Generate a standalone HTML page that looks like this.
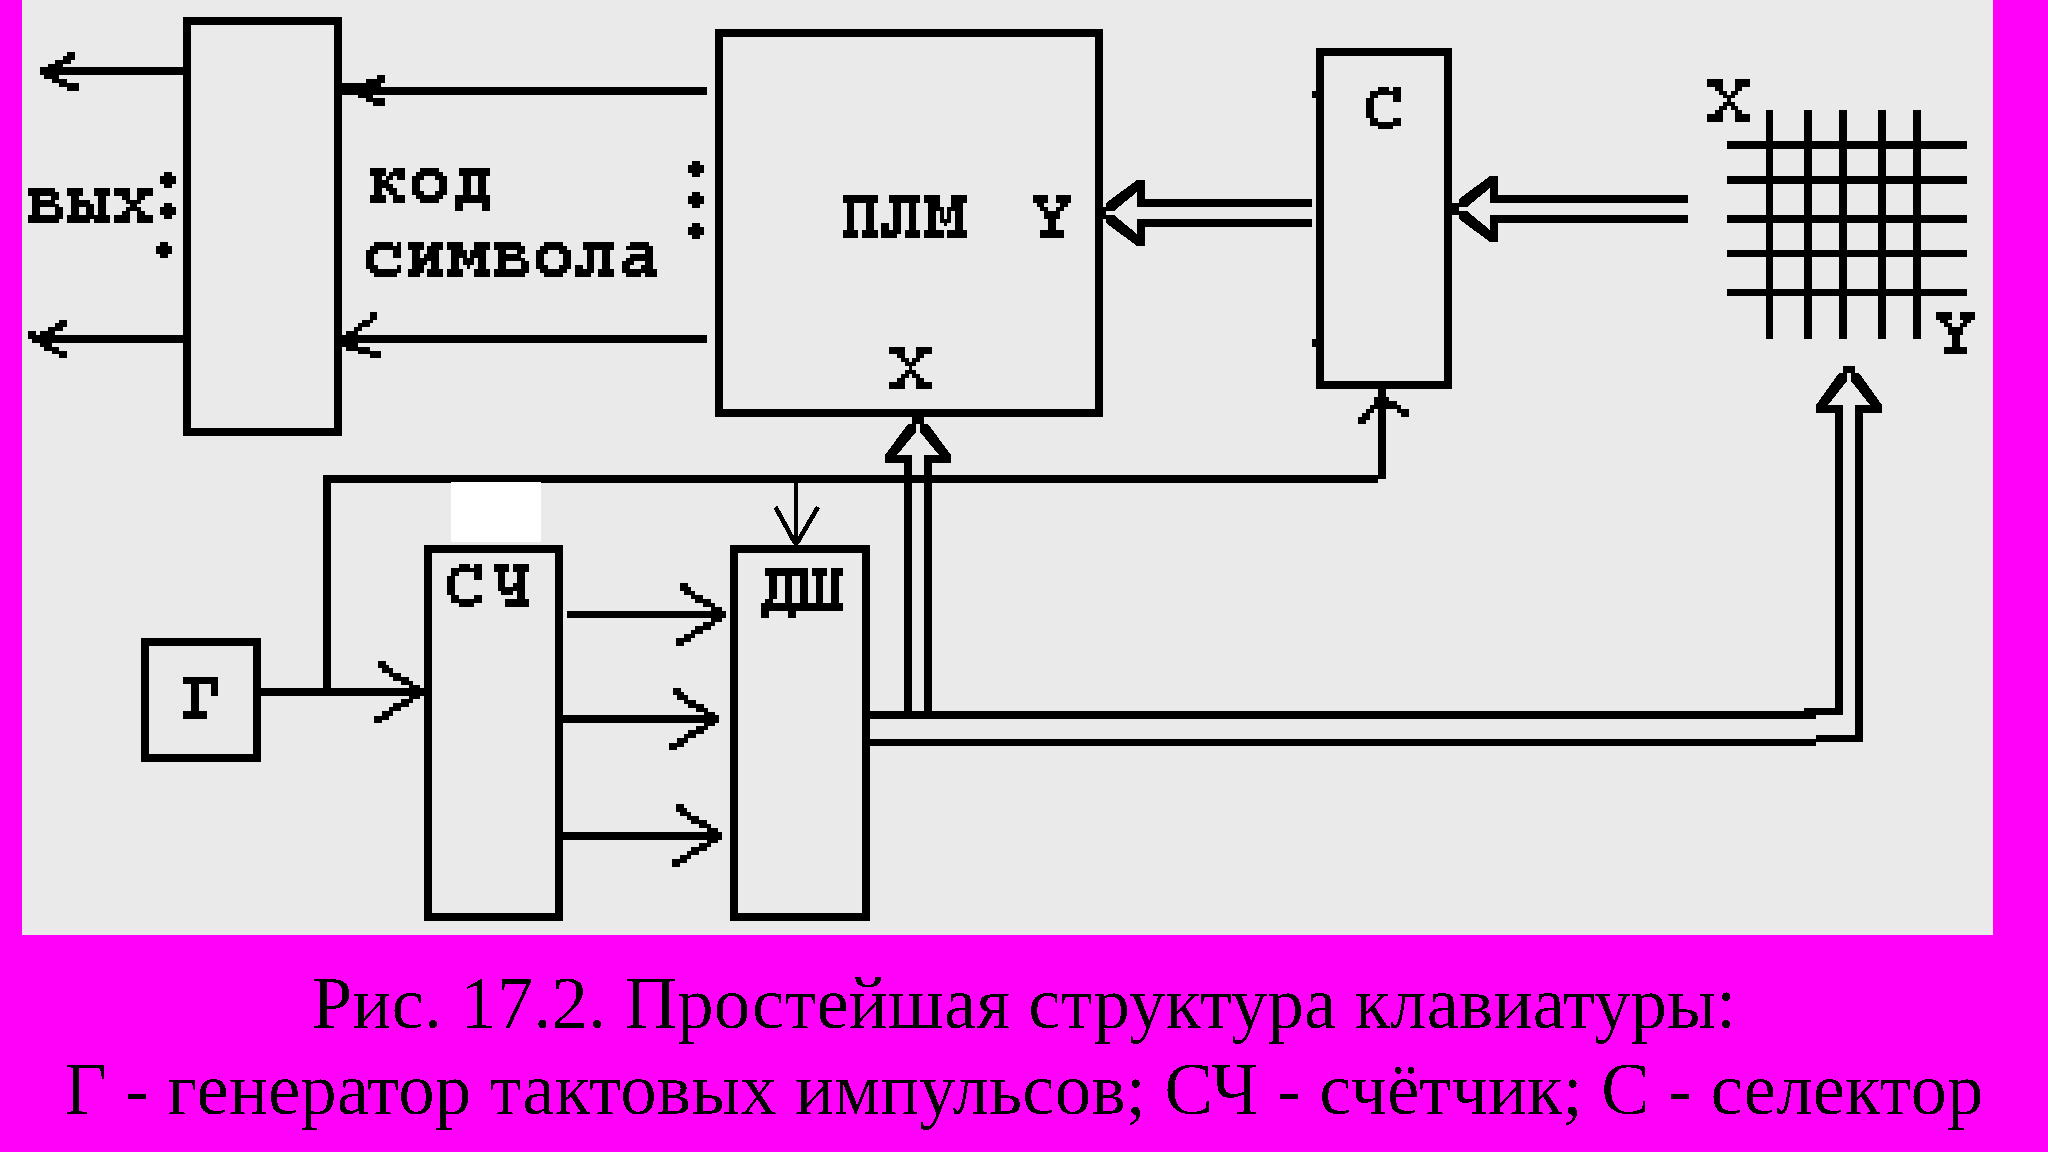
<!DOCTYPE html>
<html><head><meta charset="utf-8"><style>
html,body{margin:0;padding:0;width:2048px;height:1152px;overflow:hidden;background:#FF00F8;}
svg{position:absolute;left:0;top:0;display:block;}
.cap{font-family:"Liberation Serif",serif;fill:#000;}
</style></head><body>
<svg width="2048" height="1152" viewBox="0 0 2048 1152"><defs><filter id="th" x="0" y="940" width="2048" height="212" filterUnits="userSpaceOnUse"><feComponentTransfer><feFuncA type="discrete" tableValues="0 0 1"/></feComponentTransfer></filter></defs><g shape-rendering="crispEdges" fill="#000">
<rect x="22" y="0" width="1971" height="934.5" fill="#EAEAEA"/>
<rect x="183" y="17" width="159" height="8"/>
<rect x="183" y="427.5" width="159" height="8"/>
<rect x="183" y="17" width="8" height="418.5"/>
<rect x="334" y="17" width="8" height="418.5"/>
<rect x="40" y="67" width="143" height="8"/>
<rect x="67" y="52" width="8" height="4"/>
<rect x="63" y="56" width="12" height="4"/>
<rect x="55" y="60" width="16" height="4"/>
<rect x="48" y="64" width="15" height="3"/>
<rect x="44" y="75" width="15" height="4"/>
<rect x="52" y="79" width="15" height="4"/>
<rect x="59" y="83" width="20" height="4"/>
<rect x="67" y="87" width="12" height="4"/>
<rect x="32" y="335" width="151" height="8"/>
<rect x="28" y="331" width="8" height="8"/>
<rect x="59" y="320" width="8" height="3"/>
<rect x="55" y="323" width="12" height="4"/>
<rect x="48" y="327" width="15" height="4"/>
<rect x="40" y="331" width="15" height="4"/>
<rect x="40" y="343" width="12" height="4"/>
<rect x="44" y="347" width="15" height="4"/>
<rect x="52" y="351" width="15" height="3"/>
<rect x="59" y="354" width="8" height="4"/>
<rect x="342" y="87" width="365" height="8"/>
<rect x="342" y="82.7" width="24" height="12.3"/>
<rect x="366" y="79" width="15" height="16"/>
<rect x="377" y="75" width="8" height="8"/>
<rect x="358" y="95" width="15" height="3"/>
<rect x="366" y="98" width="7" height="4"/>
<rect x="373" y="98" width="12" height="8"/>
<rect x="342" y="335" width="365" height="8"/>
<rect x="342" y="335" width="4" height="11.7"/>
<rect x="346" y="331" width="12" height="20"/>
<rect x="354" y="327" width="8" height="4"/>
<rect x="358" y="323" width="12" height="4"/>
<rect x="362" y="320" width="11" height="3"/>
<rect x="370" y="312" width="7" height="8"/>
<rect x="358" y="346.7" width="12" height="7.3"/>
<rect x="370" y="351" width="11" height="7"/>
<rect x="160" y="176" width="16" height="8"/>
<rect x="164" y="172" width="8" height="16"/>
<rect x="160" y="207" width="16" height="8"/>
<rect x="164" y="203" width="8" height="16"/>
<rect x="156" y="246" width="16" height="8"/>
<rect x="160" y="242" width="8" height="16"/>
<rect x="688" y="165" width="16" height="8"/>
<rect x="692" y="161" width="8" height="16"/>
<rect x="688" y="196" width="16" height="8"/>
<rect x="692" y="192" width="8" height="16"/>
<rect x="688" y="227" width="16" height="8"/>
<rect x="692" y="223" width="8" height="16"/>
<rect x="715" y="29" width="388" height="7.5"/>
<rect x="715" y="409" width="388" height="8"/>
<rect x="715" y="29" width="7.5" height="388"/>
<rect x="1095" y="29" width="8" height="388"/>
<rect x="1103" y="207" width="3" height="12"/>
<path d="M1106,203 L1137,180 L1137,192 L1114,211 L1106,211Z"/>
<rect x="1137" y="180" width="8" height="27"/>
<rect x="1137" y="199" width="175" height="8"/>
<path d="M1106,223 L1137,246 L1137,234 L1114,215 L1106,215Z"/>
<rect x="1137" y="219" width="8" height="27"/>
<rect x="1137" y="219" width="175" height="8"/>
<rect x="1452" y="203" width="7" height="12"/>
<path d="M1459,199 L1490,176 L1490,188 L1467,207 L1459,207Z"/>
<rect x="1490" y="176" width="8" height="27"/>
<rect x="1490" y="195" width="198" height="8"/>
<path d="M1459,219 L1490,242 L1490,230 L1467,211 L1459,211Z"/>
<rect x="1490" y="215" width="8" height="27"/>
<rect x="1490" y="215" width="198" height="8"/>
<rect x="912" y="417" width="12" height="7"/>
<path d="M908,424 L885,455 L897,455 L916,432 L916,424Z"/>
<rect x="885" y="455" width="27" height="8"/>
<rect x="904" y="455" width="8" height="256"/>
<path d="M928,424 L951,455 L939,455 L920,432 L920,424Z"/>
<rect x="924" y="455" width="27" height="8"/>
<rect x="924" y="455" width="8" height="256"/>
<rect x="1843" y="366" width="12" height="7"/>
<path d="M1839,373 L1816,405 L1828,405 L1847,381 L1847,373Z"/>
<rect x="1816" y="405" width="27" height="8"/>
<path d="M1859,373 L1882,405 L1870,405 L1851,381 L1851,373Z"/>
<rect x="1855" y="405" width="27" height="8"/>
<rect x="1316" y="48" width="136" height="8"/>
<rect x="1316" y="381" width="136" height="8"/>
<rect x="1316" y="48" width="8" height="341"/>
<rect x="1444" y="48" width="8" height="341"/>
<rect x="1312" y="91" width="4" height="7"/>
<rect x="1312" y="339" width="4" height="8"/>
<rect x="1727" y="141" width="240" height="8"/>
<rect x="1727" y="176" width="240" height="8"/>
<rect x="1727" y="215" width="240" height="8"/>
<rect x="1727" y="250" width="240" height="7"/>
<rect x="1727" y="289" width="240" height="7"/>
<rect x="1766" y="110" width="7" height="229"/>
<rect x="1804" y="110" width="8" height="229"/>
<rect x="1839" y="110" width="8" height="229"/>
<rect x="1878" y="110" width="8" height="229"/>
<rect x="1913" y="110" width="8" height="229"/>
<rect x="1835" y="405" width="8" height="310"/>
<rect x="1855" y="405" width="8" height="337"/>
<rect x="870" y="711" width="946" height="8"/>
<rect x="1804" y="708" width="39" height="7"/>
<rect x="870" y="739" width="946" height="7"/>
<rect x="1816" y="735" width="47" height="7"/>
<rect x="323" y="475" width="1055" height="8"/>
<rect x="323" y="475" width="8" height="221"/>
<rect x="1378" y="389" width="8" height="90"/>
<rect x="1374" y="397" width="4" height="12"/>
<rect x="1370" y="405" width="8" height="4"/>
<rect x="1366" y="409" width="8" height="4"/>
<rect x="1362" y="413" width="8" height="7"/>
<rect x="1358" y="417" width="8" height="7"/>
<rect x="1386" y="397" width="3" height="12"/>
<rect x="1389" y="401" width="8" height="8"/>
<rect x="1397" y="405" width="4" height="8"/>
<rect x="1401" y="409" width="8" height="8"/>
<rect x="794" y="483" width="4" height="62"/>
<path d="M775.5,507 L795,543" fill="none" stroke="#000" stroke-width="4.6"/>
<path d="M818,507 L797,543" fill="none" stroke="#000" stroke-width="4.6"/>
<rect x="451" y="482" width="90" height="60" fill="#FFFFFF"/>
<rect x="141" y="638" width="120" height="8"/>
<rect x="141" y="754" width="120" height="8"/>
<rect x="141" y="638" width="8" height="124"/>
<rect x="253" y="638" width="8" height="124"/>
<rect x="261" y="688" width="163" height="8"/>
<rect x="377.8" y="660.5" width="7.9" height="4"/>
<rect x="377.8" y="664.5" width="11.2" height="3.9"/>
<rect x="381.8" y="668.4" width="11.2" height="4.3"/>
<rect x="389" y="672.7" width="11.9" height="4"/>
<rect x="393" y="676.7" width="15.8" height="3.9"/>
<rect x="400.9" y="680.6" width="12.2" height="4"/>
<rect x="408.8" y="684.6" width="11.3" height="3.9"/>
<rect x="408.8" y="688.5" width="15.2" height="7"/>
<rect x="408.8" y="695.5" width="11.3" height="3.9"/>
<rect x="400.9" y="699.4" width="12.2" height="4"/>
<rect x="393" y="703.4" width="15.8" height="3.9"/>
<rect x="389" y="707.3" width="11.9" height="4"/>
<rect x="381.8" y="711.3" width="11.2" height="4.3"/>
<rect x="373.8" y="715.6" width="15.2" height="3.9"/>
<rect x="373.8" y="719.5" width="8" height="3.5"/>
<rect x="424" y="545" width="139" height="8"/>
<rect x="424" y="912.5" width="139" height="8"/>
<rect x="424" y="545" width="8" height="375.5"/>
<rect x="555" y="545" width="8" height="375.5"/>
<rect x="730" y="545" width="140" height="8"/>
<rect x="730" y="912.5" width="140" height="8"/>
<rect x="730" y="545" width="8" height="375.5"/>
<rect x="862" y="545" width="8" height="375.5"/>
<rect x="567" y="611" width="159" height="7"/>
<rect x="679.8" y="583" width="7.9" height="4"/>
<rect x="679.8" y="587" width="11.2" height="3.9"/>
<rect x="683.8" y="590.9" width="11.2" height="4.3"/>
<rect x="691" y="595.2" width="11.9" height="4"/>
<rect x="695" y="599.2" width="15.8" height="3.9"/>
<rect x="702.9" y="603.1" width="12.2" height="4"/>
<rect x="710.8" y="607.1" width="11.3" height="3.9"/>
<rect x="710.8" y="611" width="15.2" height="7"/>
<rect x="710.8" y="618" width="11.3" height="3.9"/>
<rect x="702.9" y="621.9" width="12.2" height="4"/>
<rect x="695" y="625.9" width="15.8" height="3.9"/>
<rect x="691" y="629.8" width="11.9" height="4"/>
<rect x="683.8" y="633.8" width="11.2" height="4.3"/>
<rect x="675.8" y="638.1" width="15.2" height="3.9"/>
<rect x="675.8" y="642" width="8" height="3.5"/>
<rect x="556" y="715" width="163" height="8"/>
<rect x="672.8" y="687.5" width="7.9" height="4"/>
<rect x="672.8" y="691.5" width="11.2" height="3.9"/>
<rect x="676.8" y="695.4" width="11.2" height="4.3"/>
<rect x="684" y="699.7" width="11.9" height="4"/>
<rect x="688" y="703.7" width="15.8" height="3.9"/>
<rect x="695.9" y="707.6" width="12.2" height="4"/>
<rect x="703.8" y="711.6" width="11.3" height="3.9"/>
<rect x="703.8" y="715.5" width="15.2" height="7"/>
<rect x="703.8" y="722.5" width="11.3" height="3.9"/>
<rect x="695.9" y="726.4" width="12.2" height="4"/>
<rect x="688" y="730.4" width="15.8" height="3.9"/>
<rect x="684" y="734.3" width="11.9" height="4"/>
<rect x="676.8" y="738.3" width="11.2" height="4.3"/>
<rect x="668.8" y="742.6" width="15.2" height="3.9"/>
<rect x="668.8" y="746.5" width="8" height="3.5"/>
<rect x="556" y="831.5" width="166" height="8"/>
<rect x="675.8" y="804" width="7.9" height="4"/>
<rect x="675.8" y="808" width="11.2" height="3.9"/>
<rect x="679.8" y="811.9" width="11.2" height="4.3"/>
<rect x="687" y="816.2" width="11.9" height="4"/>
<rect x="691" y="820.2" width="15.8" height="3.9"/>
<rect x="698.9" y="824.1" width="12.2" height="4"/>
<rect x="706.8" y="828.1" width="11.3" height="3.9"/>
<rect x="706.8" y="832" width="15.2" height="7"/>
<rect x="706.8" y="839" width="11.3" height="3.9"/>
<rect x="698.9" y="842.9" width="12.2" height="4"/>
<rect x="691" y="846.9" width="15.8" height="3.9"/>
<rect x="687" y="850.8" width="11.9" height="4"/>
<rect x="679.8" y="854.8" width="11.2" height="4.3"/>
<rect x="671.8" y="859.1" width="15.2" height="3.9"/>
<rect x="671.8" y="863" width="8" height="3.5"/>
<rect x="27.9" y="188" width="27.23" height="3.89"/>
<rect x="27.9" y="191.89" width="31.12" height="3.89"/>
<rect x="31.79" y="195.78" width="7.78" height="3.89"/>
<rect x="51.24" y="195.78" width="7.78" height="3.89"/>
<rect x="31.79" y="199.67" width="23.34" height="3.89"/>
<rect x="31.79" y="203.56" width="27.23" height="3.89"/>
<rect x="31.79" y="207.45" width="7.78" height="3.89"/>
<rect x="55.13" y="207.45" width="7.78" height="3.89"/>
<rect x="31.79" y="211.34" width="7.78" height="3.89"/>
<rect x="55.13" y="211.34" width="7.78" height="3.89"/>
<rect x="27.9" y="215.23" width="35.01" height="3.89"/>
<rect x="27.9" y="219.12" width="31.12" height="3.89"/>
<rect x="67" y="188" width="15.56" height="3.89"/>
<rect x="94.23" y="188" width="15.56" height="3.89"/>
<rect x="67" y="191.89" width="15.56" height="3.89"/>
<rect x="94.23" y="191.89" width="15.56" height="3.89"/>
<rect x="70.89" y="195.78" width="7.78" height="3.89"/>
<rect x="98.12" y="195.78" width="7.78" height="3.89"/>
<rect x="70.89" y="199.67" width="19.45" height="3.89"/>
<rect x="98.12" y="199.67" width="7.78" height="3.89"/>
<rect x="70.89" y="203.56" width="23.34" height="3.89"/>
<rect x="98.12" y="203.56" width="7.78" height="3.89"/>
<rect x="70.89" y="207.45" width="7.78" height="3.89"/>
<rect x="86.45" y="207.45" width="7.78" height="3.89"/>
<rect x="98.12" y="207.45" width="7.78" height="3.89"/>
<rect x="70.89" y="211.34" width="7.78" height="3.89"/>
<rect x="86.45" y="211.34" width="7.78" height="3.89"/>
<rect x="98.12" y="211.34" width="7.78" height="3.89"/>
<rect x="67" y="215.23" width="42.79" height="3.89"/>
<rect x="67" y="219.12" width="23.34" height="3.89"/>
<rect x="94.23" y="219.12" width="15.56" height="3.89"/>
<rect x="114" y="188" width="15.56" height="3.89"/>
<rect x="137.34" y="188" width="15.56" height="3.89"/>
<rect x="114" y="191.89" width="15.56" height="3.89"/>
<rect x="137.34" y="191.89" width="15.56" height="3.89"/>
<rect x="121.78" y="195.78" width="7.78" height="3.89"/>
<rect x="137.34" y="195.78" width="7.78" height="3.89"/>
<rect x="125.67" y="199.67" width="15.56" height="3.89"/>
<rect x="129.56" y="203.56" width="7.78" height="3.89"/>
<rect x="125.67" y="207.45" width="15.56" height="3.89"/>
<rect x="121.78" y="211.34" width="7.78" height="3.89"/>
<rect x="137.34" y="211.34" width="7.78" height="3.89"/>
<rect x="114" y="215.23" width="15.56" height="3.89"/>
<rect x="137.34" y="215.23" width="15.56" height="3.89"/>
<rect x="114" y="219.12" width="15.56" height="3.89"/>
<rect x="137.34" y="219.12" width="15.56" height="3.89"/>
<rect x="370" y="168.1" width="15.56" height="3.89"/>
<rect x="393.34" y="168.1" width="11.67" height="3.89"/>
<rect x="370" y="171.99" width="15.56" height="3.89"/>
<rect x="389.45" y="171.99" width="15.56" height="3.89"/>
<rect x="373.89" y="175.88" width="7.78" height="3.89"/>
<rect x="385.56" y="175.88" width="7.78" height="3.89"/>
<rect x="397.23" y="175.88" width="7.78" height="3.89"/>
<rect x="373.89" y="179.77" width="15.56" height="3.89"/>
<rect x="373.89" y="183.66" width="19.45" height="3.89"/>
<rect x="373.89" y="187.55" width="7.78" height="3.89"/>
<rect x="385.56" y="187.55" width="11.67" height="3.89"/>
<rect x="373.89" y="191.44" width="7.78" height="3.89"/>
<rect x="389.45" y="191.44" width="7.78" height="3.89"/>
<rect x="370" y="195.33" width="15.56" height="3.89"/>
<rect x="393.34" y="195.33" width="11.67" height="3.89"/>
<rect x="370" y="199.22" width="15.56" height="3.89"/>
<rect x="393.34" y="199.22" width="11.67" height="3.89"/>
<rect x="419.78" y="168.1" width="19.45" height="3.89"/>
<rect x="415.89" y="171.99" width="27.23" height="3.89"/>
<rect x="412" y="175.88" width="11.67" height="3.89"/>
<rect x="435.34" y="175.88" width="11.67" height="3.89"/>
<rect x="412" y="179.77" width="7.78" height="3.89"/>
<rect x="439.23" y="179.77" width="7.78" height="3.89"/>
<rect x="412" y="183.66" width="7.78" height="3.89"/>
<rect x="439.23" y="183.66" width="7.78" height="3.89"/>
<rect x="412" y="187.55" width="7.78" height="3.89"/>
<rect x="439.23" y="187.55" width="7.78" height="3.89"/>
<rect x="412" y="191.44" width="11.67" height="3.89"/>
<rect x="435.34" y="191.44" width="11.67" height="3.89"/>
<rect x="415.89" y="195.33" width="27.23" height="3.89"/>
<rect x="419.78" y="199.22" width="19.45" height="3.89"/>
<rect x="458.89" y="168.1" width="31.12" height="3.89"/>
<rect x="458.89" y="171.99" width="31.12" height="3.89"/>
<rect x="462.78" y="175.88" width="7.78" height="3.89"/>
<rect x="478.34" y="175.88" width="7.78" height="3.89"/>
<rect x="462.78" y="179.77" width="7.78" height="3.89"/>
<rect x="478.34" y="179.77" width="7.78" height="3.89"/>
<rect x="462.78" y="183.66" width="7.78" height="3.89"/>
<rect x="478.34" y="183.66" width="7.78" height="3.89"/>
<rect x="462.78" y="187.55" width="7.78" height="3.89"/>
<rect x="478.34" y="187.55" width="7.78" height="3.89"/>
<rect x="462.78" y="191.44" width="7.78" height="3.89"/>
<rect x="478.34" y="191.44" width="7.78" height="3.89"/>
<rect x="455" y="195.33" width="35.01" height="3.89"/>
<rect x="455" y="199.22" width="35.01" height="3.89"/>
<rect x="455" y="203.11" width="7.78" height="3.89"/>
<rect x="482.23" y="203.11" width="7.78" height="3.89"/>
<rect x="455" y="207" width="7.78" height="3.89"/>
<rect x="482.23" y="207" width="7.78" height="3.89"/>
<rect x="373.78" y="242" width="19.45" height="3.89"/>
<rect x="397.12" y="242" width="3.89" height="3.89"/>
<rect x="369.89" y="245.89" width="31.12" height="3.89"/>
<rect x="366" y="249.78" width="11.67" height="3.89"/>
<rect x="393.23" y="249.78" width="7.78" height="3.89"/>
<rect x="366" y="253.67" width="7.78" height="3.89"/>
<rect x="393.23" y="253.67" width="7.78" height="3.89"/>
<rect x="366" y="257.56" width="7.78" height="3.89"/>
<rect x="366" y="261.45" width="7.78" height="3.89"/>
<rect x="366" y="265.34" width="11.67" height="3.89"/>
<rect x="397.12" y="265.34" width="3.89" height="3.89"/>
<rect x="369.89" y="269.23" width="31.12" height="3.89"/>
<rect x="373.78" y="273.12" width="23.34" height="3.89"/>
<rect x="408" y="242" width="15.56" height="3.89"/>
<rect x="431.34" y="242" width="11.67" height="3.89"/>
<rect x="408" y="245.89" width="15.56" height="3.89"/>
<rect x="427.45" y="245.89" width="15.56" height="3.89"/>
<rect x="411.89" y="249.78" width="7.78" height="3.89"/>
<rect x="427.45" y="249.78" width="11.67" height="3.89"/>
<rect x="411.89" y="253.67" width="7.78" height="3.89"/>
<rect x="423.56" y="253.67" width="15.56" height="3.89"/>
<rect x="411.89" y="257.56" width="27.23" height="3.89"/>
<rect x="411.89" y="261.45" width="15.56" height="3.89"/>
<rect x="431.34" y="261.45" width="7.78" height="3.89"/>
<rect x="411.89" y="265.34" width="11.67" height="3.89"/>
<rect x="431.34" y="265.34" width="7.78" height="3.89"/>
<rect x="408" y="269.23" width="15.56" height="3.89"/>
<rect x="427.45" y="269.23" width="15.56" height="3.89"/>
<rect x="408" y="273.12" width="11.67" height="3.89"/>
<rect x="427.45" y="273.12" width="15.56" height="3.89"/>
<rect x="447.1" y="242" width="15.56" height="3.89"/>
<rect x="474.33" y="242" width="15.56" height="3.89"/>
<rect x="447.1" y="245.89" width="15.56" height="3.89"/>
<rect x="474.33" y="245.89" width="15.56" height="3.89"/>
<rect x="450.99" y="249.78" width="15.56" height="3.89"/>
<rect x="470.44" y="249.78" width="15.56" height="3.89"/>
<rect x="450.99" y="253.67" width="15.56" height="3.89"/>
<rect x="470.44" y="253.67" width="15.56" height="3.89"/>
<rect x="450.99" y="257.56" width="7.78" height="3.89"/>
<rect x="462.66" y="257.56" width="11.67" height="3.89"/>
<rect x="478.22" y="257.56" width="7.78" height="3.89"/>
<rect x="450.99" y="261.45" width="7.78" height="3.89"/>
<rect x="462.66" y="261.45" width="11.67" height="3.89"/>
<rect x="478.22" y="261.45" width="7.78" height="3.89"/>
<rect x="450.99" y="265.34" width="7.78" height="3.89"/>
<rect x="466.55" y="265.34" width="3.89" height="3.89"/>
<rect x="478.22" y="265.34" width="7.78" height="3.89"/>
<rect x="447.1" y="269.23" width="15.56" height="3.89"/>
<rect x="474.33" y="269.23" width="15.56" height="3.89"/>
<rect x="447.1" y="273.12" width="15.56" height="3.89"/>
<rect x="474.33" y="273.12" width="15.56" height="3.89"/>
<rect x="494" y="242" width="27.23" height="3.89"/>
<rect x="494" y="245.89" width="31.12" height="3.89"/>
<rect x="497.89" y="249.78" width="7.78" height="3.89"/>
<rect x="517.34" y="249.78" width="7.78" height="3.89"/>
<rect x="497.89" y="253.67" width="23.34" height="3.89"/>
<rect x="497.89" y="257.56" width="27.23" height="3.89"/>
<rect x="497.89" y="261.45" width="7.78" height="3.89"/>
<rect x="521.23" y="261.45" width="7.78" height="3.89"/>
<rect x="497.89" y="265.34" width="7.78" height="3.89"/>
<rect x="521.23" y="265.34" width="7.78" height="3.89"/>
<rect x="494" y="269.23" width="35.01" height="3.89"/>
<rect x="494" y="273.12" width="31.12" height="3.89"/>
<rect x="543.78" y="242" width="19.45" height="3.89"/>
<rect x="539.89" y="245.89" width="27.23" height="3.89"/>
<rect x="536" y="249.78" width="11.67" height="3.89"/>
<rect x="559.34" y="249.78" width="11.67" height="3.89"/>
<rect x="536" y="253.67" width="7.78" height="3.89"/>
<rect x="563.23" y="253.67" width="7.78" height="3.89"/>
<rect x="536" y="257.56" width="7.78" height="3.89"/>
<rect x="563.23" y="257.56" width="7.78" height="3.89"/>
<rect x="536" y="261.45" width="7.78" height="3.89"/>
<rect x="563.23" y="261.45" width="7.78" height="3.89"/>
<rect x="536" y="265.34" width="11.67" height="3.89"/>
<rect x="559.34" y="265.34" width="11.67" height="3.89"/>
<rect x="539.89" y="269.23" width="27.23" height="3.89"/>
<rect x="543.78" y="273.12" width="19.45" height="3.89"/>
<rect x="582.78" y="242" width="31.12" height="3.89"/>
<rect x="582.78" y="245.89" width="31.12" height="3.89"/>
<rect x="586.67" y="249.78" width="7.78" height="3.89"/>
<rect x="602.23" y="249.78" width="7.78" height="3.89"/>
<rect x="586.67" y="253.67" width="7.78" height="3.89"/>
<rect x="602.23" y="253.67" width="7.78" height="3.89"/>
<rect x="586.67" y="257.56" width="7.78" height="3.89"/>
<rect x="602.23" y="257.56" width="7.78" height="3.89"/>
<rect x="586.67" y="261.45" width="7.78" height="3.89"/>
<rect x="602.23" y="261.45" width="7.78" height="3.89"/>
<rect x="575" y="265.34" width="7.78" height="3.89"/>
<rect x="586.67" y="265.34" width="7.78" height="3.89"/>
<rect x="602.23" y="265.34" width="7.78" height="3.89"/>
<rect x="575" y="269.23" width="19.45" height="3.89"/>
<rect x="598.34" y="269.23" width="15.56" height="3.89"/>
<rect x="575" y="273.12" width="15.56" height="3.89"/>
<rect x="598.34" y="273.12" width="15.56" height="3.89"/>
<rect x="629.78" y="242" width="19.45" height="3.89"/>
<rect x="625.89" y="245.89" width="27.23" height="3.89"/>
<rect x="645.34" y="249.78" width="7.78" height="3.89"/>
<rect x="629.78" y="253.67" width="23.34" height="3.89"/>
<rect x="625.89" y="257.56" width="27.23" height="3.89"/>
<rect x="622" y="261.45" width="11.67" height="3.89"/>
<rect x="645.34" y="261.45" width="7.78" height="3.89"/>
<rect x="622" y="265.34" width="7.78" height="3.89"/>
<rect x="641.45" y="265.34" width="11.67" height="3.89"/>
<rect x="622" y="269.23" width="35.01" height="3.89"/>
<rect x="625.89" y="273.12" width="15.56" height="3.89"/>
<rect x="645.34" y="273.12" width="11.67" height="3.89"/>
<rect x="842.84" y="194.84" width="35.2" height="7.86"/>
<rect x="846.94" y="202.7" width="7.18" height="27.34"/>
<rect x="865.94" y="202.7" width="8" height="27.34"/>
<rect x="842.84" y="230.04" width="15.17" height="7.86"/>
<rect x="861.97" y="230.04" width="16.06" height="7.86"/>
<rect x="888.97" y="194.84" width="31.1" height="7.86"/>
<rect x="892.94" y="202.7" width="8" height="31.1"/>
<rect x="909.14" y="202.7" width="6.84" height="27.34"/>
<rect x="905.04" y="230.04" width="15.04" height="7.86"/>
<rect x="881.11" y="223" width="7.86" height="14.9"/>
<rect x="881.11" y="230.04" width="15.72" height="7.86"/>
<rect x="888.97" y="230.04" width="11.96" height="3.76"/>
<rect x="924.04" y="194.84" width="15.99" height="7.86"/>
<rect x="927.93" y="202.7" width="8" height="27.34"/>
<rect x="924.04" y="230.04" width="19.96" height="7.86"/>
<rect x="951.04" y="194.84" width="16.06" height="7.86"/>
<rect x="955.07" y="202.7" width="7.93" height="27.34"/>
<rect x="947.07" y="230.04" width="20.03" height="7.86"/>
<rect x="935.93" y="202.7" width="4.1" height="8.54"/>
<rect x="940.03" y="206.8" width="3.96" height="16.06"/>
<rect x="947.07" y="206.8" width="3.96" height="16.06"/>
<rect x="951.04" y="202.7" width="4.03" height="8.54"/>
<rect x="944" y="219.1" width="3.08" height="6.84"/>
<rect x="1033.05" y="195.05" width="14.92" height="7.78"/>
<rect x="1056.14" y="195.05" width="14.83" height="7.78"/>
<rect x="1036.94" y="202.83" width="7.15" height="4.13"/>
<rect x="1060.03" y="202.83" width="7.88" height="4.13"/>
<rect x="1040.1" y="206.96" width="7.88" height="3.89"/>
<rect x="1056.14" y="206.96" width="7.78" height="3.89"/>
<rect x="1044.08" y="210.85" width="15.95" height="8.02"/>
<rect x="1047.97" y="218.87" width="8.17" height="11.18"/>
<rect x="1040.1" y="230.05" width="23.82" height="7.78"/>
<rect x="889.05" y="347.05" width="15.9" height="6.81"/>
<rect x="916.03" y="347.05" width="15.95" height="6.81"/>
<rect x="896.97" y="353.86" width="7.97" height="4.13"/>
<rect x="916.03" y="353.86" width="7.88" height="4.13"/>
<rect x="900.96" y="357.99" width="7.88" height="3.99"/>
<rect x="912.14" y="357.99" width="7.78" height="3.99"/>
<rect x="904.95" y="361.97" width="11.08" height="4.04"/>
<rect x="908.84" y="366.01" width="3.31" height="4.13"/>
<rect x="904.95" y="370.14" width="11.08" height="3.89"/>
<rect x="900.96" y="374.03" width="7.88" height="3.89"/>
<rect x="912.14" y="374.03" width="7.78" height="3.89"/>
<rect x="896.97" y="377.92" width="7.97" height="4.13"/>
<rect x="916.03" y="377.92" width="7.88" height="4.13"/>
<rect x="889.05" y="382.05" width="15.9" height="6.81"/>
<rect x="916.03" y="382.05" width="15.95" height="6.81"/>
<rect x="1377.97" y="87.05" width="10.99" height="4.04"/>
<rect x="1393.04" y="87.05" width="7.92" height="14.83"/>
<rect x="1370.1" y="91.08" width="22.95" height="3.99"/>
<rect x="1370.1" y="95.07" width="7.88" height="2.92"/>
<rect x="1366.11" y="97.99" width="7.97" height="19.93"/>
<rect x="1370.1" y="117.92" width="7.88" height="4.13"/>
<rect x="1393.04" y="117.92" width="7.92" height="7.78"/>
<rect x="1370.1" y="122.05" width="30.87" height="3.65"/>
<rect x="1377.97" y="125.7" width="15.07" height="3.16"/>
<rect x="1707.05" y="79.05" width="15.9" height="7.78"/>
<rect x="1735" y="79.05" width="14.97" height="7.78"/>
<rect x="1714.97" y="86.83" width="7.97" height="4.13"/>
<rect x="1735" y="86.83" width="6.9" height="4.13"/>
<rect x="1718.96" y="90.96" width="7.88" height="3.89"/>
<rect x="1731.02" y="90.96" width="6.9" height="3.89"/>
<rect x="1722.95" y="94.85" width="12.06" height="3.16"/>
<rect x="1726.84" y="98.01" width="4.18" height="4.13"/>
<rect x="1722.95" y="102.14" width="12.06" height="3.89"/>
<rect x="1718.96" y="106.03" width="7.88" height="3.89"/>
<rect x="1731.02" y="106.03" width="6.9" height="3.89"/>
<rect x="1714.97" y="109.92" width="7.97" height="4.13"/>
<rect x="1735" y="109.92" width="6.9" height="4.13"/>
<rect x="1707.05" y="114.05" width="15.9" height="7.78"/>
<rect x="1735" y="114.05" width="14.97" height="7.78"/>
<rect x="1936.02" y="312.02" width="15.9" height="7.78"/>
<rect x="1960.09" y="312.02" width="14.83" height="7.78"/>
<rect x="1939.91" y="319.8" width="8.02" height="3.16"/>
<rect x="1963" y="319.8" width="7.88" height="3.16"/>
<rect x="1944.04" y="322.96" width="7.88" height="3.89"/>
<rect x="1960.09" y="322.96" width="6.81" height="3.89"/>
<rect x="1947.93" y="326.85" width="15.07" height="8.02"/>
<rect x="1951.92" y="334.87" width="8.17" height="11.91"/>
<rect x="1944.04" y="346.78" width="22.85" height="7.05"/>
<rect x="459.05" y="564.01" width="11.14" height="4.1"/>
<rect x="474.09" y="564.01" width="7.86" height="15.86"/>
<rect x="450.85" y="568.11" width="31.1" height="4.1"/>
<rect x="450.85" y="572.21" width="8.2" height="3.76"/>
<rect x="446.95" y="575.97" width="8" height="19"/>
<rect x="450.85" y="594.98" width="8.2" height="8"/>
<rect x="474.09" y="594.98" width="7.86" height="8"/>
<rect x="450.85" y="598.87" width="31.1" height="4.1"/>
<rect x="459.05" y="602.97" width="15.04" height="3.76"/>
<rect x="493.98" y="564.01" width="14.97" height="8"/>
<rect x="513.05" y="564.01" width="15.93" height="8"/>
<rect x="498.01" y="572.01" width="7.04" height="19"/>
<rect x="516.94" y="572.01" width="8.07" height="26.86"/>
<rect x="513.05" y="583.15" width="11.96" height="3.76"/>
<rect x="498.01" y="586.91" width="27" height="4.1"/>
<rect x="501.09" y="591.01" width="11.96" height="3.76"/>
<rect x="505.05" y="598.87" width="23.92" height="7.86"/>
<rect x="765.07" y="567.88" width="42.97" height="8.08"/>
<rect x="768.96" y="575.97" width="8.08" height="22.79"/>
<rect x="784.94" y="575.97" width="6.99" height="27.04"/>
<rect x="799.83" y="575.97" width="8.2" height="27.04"/>
<rect x="765.07" y="598.76" width="7.9" height="4.25"/>
<rect x="761.06" y="603.01" width="81.92" height="7.9"/>
<rect x="761.06" y="610.91" width="7.9" height="6.99"/>
<rect x="787.98" y="610.91" width="7.9" height="6.99"/>
<rect x="811.99" y="567.88" width="15.07" height="8.08"/>
<rect x="831.13" y="567.88" width="11.85" height="8.08"/>
<rect x="815.94" y="575.97" width="6.99" height="27.04"/>
<rect x="831.13" y="575.97" width="7.9" height="27.04"/>
<rect x="183.08" y="677.05" width="34.86" height="6.95"/>
<rect x="190.96" y="684" width="8.02" height="27.08"/>
<rect x="211.13" y="684" width="6.81" height="11.76"/>
<rect x="183.08" y="711.08" width="23.92" height="7.78"/>
<g filter="url(#th)">
<text x="1024" y="1028" class="cap" text-anchor="middle" font-size="73">Рис. 17.2. Простейшая структура клавиатуры:</text>
<text x="1024" y="1114" class="cap" text-anchor="middle" font-size="73">Г - генератор тактовых импульсов; СЧ - счётчик; С - селектор</text>
</g>
</g></svg>
</body></html>
